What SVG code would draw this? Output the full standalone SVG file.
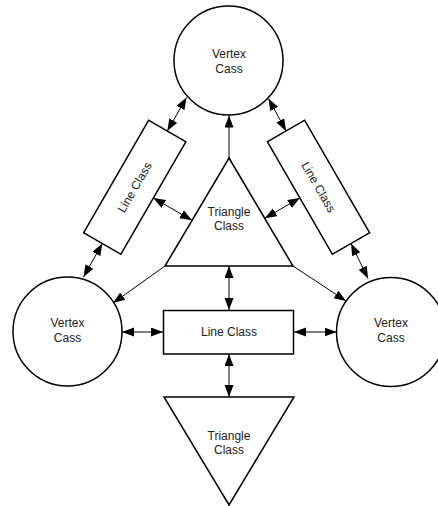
<svg xmlns="http://www.w3.org/2000/svg" width="438" height="506" viewBox="0 0 438 506">
<style>
.shape{fill:#fff;stroke:#000;stroke-width:1.5}
.lbl{font-family:"Liberation Sans",Arial,sans-serif;font-size:12px;fill:#222;text-anchor:middle}
.con{stroke:#000;stroke-width:1;fill:none}
.dbl{marker-start:url(#ah);marker-end:url(#ah)}
.one{marker-end:url(#ah)}
</style>
<defs>
<marker id="ah" markerUnits="userSpaceOnUse" markerWidth="13" markerHeight="10" refX="12" refY="4.5" orient="auto-start-reverse">
<path d="M0,0 L12,4.5 L0,9 z" fill="#000"/>
</marker>
</defs>
<rect width="438" height="506" fill="#fff"/>
<g id="connectors">
<line class="con dbl" x1="167.3" y1="131" x2="186.5" y2="97.5"/>
<line class="con dbl" x1="102.3" y1="243.5" x2="83.5" y2="277"/>
<line class="con dbl" x1="153.4" y1="198" x2="192" y2="220.3"/>
<line class="con dbl" x1="286" y1="131" x2="268.5" y2="98.5"/>
<line class="con dbl" x1="351" y1="243.5" x2="368" y2="278.5"/>
<line class="con dbl" x1="299.9" y1="198" x2="264.7" y2="218.3"/>
<line class="con one" x1="229" y1="158" x2="229" y2="115.5"/>
<line class="con one" x1="165" y1="266" x2="113" y2="303"/>
<line class="con one" x1="293" y1="266" x2="346" y2="301"/>
<line class="con dbl" x1="229" y1="266" x2="229" y2="310"/>
<line class="con dbl" x1="229" y1="354" x2="229" y2="397"/>
<line class="con dbl" x1="122" y1="332" x2="163" y2="332"/>
<line class="con dbl" x1="294" y1="332" x2="336.5" y2="332"/>
</g>
<g id="vertex-top">
<circle class="shape" cx="228.5" cy="60.5" r="54.5"/>
<text class="lbl" x="229" y="58">Vertex</text>
<text class="lbl" x="229" y="73">Cass</text>
</g>
<g id="vertex-left">
<circle class="shape" cx="67.5" cy="331.5" r="54.5"/>
<text class="lbl" x="67.5" y="327">Vertex</text>
<text class="lbl" x="67.5" y="342">Cass</text>
</g>
<g id="vertex-right">
<circle class="shape" cx="391" cy="332" r="54.5"/>
<text class="lbl" x="391" y="327">Vertex</text>
<text class="lbl" x="391" y="342">Cass</text>
</g>
<g id="line-left" transform="translate(134.75,187.25) rotate(-60)">
<rect class="shape" x="-65" y="-21.5" width="130" height="43"/>
<text class="lbl" x="0" y="4">Line Class</text>
</g>
<g id="line-right" transform="translate(318.5,187.25) rotate(60)">
<rect class="shape" x="-65" y="-21.5" width="130" height="43"/>
<text class="lbl" x="0" y="4">Line Class</text>
</g>
<g id="triangle-top">
<polygon class="shape" points="229,158 293,266 165,266"/>
<text class="lbl" x="229" y="216">Triangle</text>
<text class="lbl" x="229" y="230">Class</text>
</g>
<g id="line-center">
<rect class="shape" x="163.5" y="310.5" width="130" height="43.5"/>
<text class="lbl" x="229" y="336">Line Class</text>
</g>
<g id="triangle-bottom">
<polygon class="shape" points="164,397 294,397 229,505"/>
<text class="lbl" x="229" y="440">Triangle</text>
<text class="lbl" x="229" y="454">Class</text>
</g>
</svg>
